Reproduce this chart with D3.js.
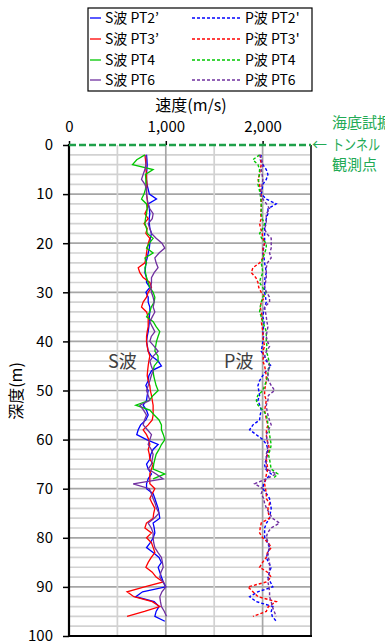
<!DOCTYPE html>
<html>
<head>
<meta charset="utf-8">
<script src="https://cdn.jsdelivr.net/npm/d3@7"></script>
<style>
  body { margin: 0; background: #fff; }
  text { font-family: "Noto Sans CJK JP", "Liberation Sans", sans-serif; }
</style>
</head>
<body>
<div id="chart"></div>
<script>
// depths (m), shared by every series; a series stops where its values stop
var depths = [2,3,4,5,6,7,8,9,10,11,12,13,14,15,16,17,18,19,20,21,22,23,24,25,26,27,28,29,30,
  31,32,33,34,35,36,37,38,39,40,41,42,43,44,45,46,47,48,49,50,51,52,53,54,55,56,57,58,59,60,
  61,62,63,64,65,66,67,68,69,70,71,72,73,74,75,76,77,78,79,80,81,82,83,84,85,86,87,88,89,90,
  91,92,93,94,95,96,97];

// S wave velocities (m/s)
var sPT2 = [801,805,808,805,800,801,805,818,830,904,818,830,835,828,830,835,852,840,835,830,
  818,808,794,790,784,800,801,835,794,818,818,835,835,830,830,825,818,808,801,810,
  818,852,920,955,852,825,818,794,818,808,801,766,800,818,794,740,715,700,801,921,
  869,845,835,801,818,852,818,801,801,869,887,904,921,930,938,869,880,887,870,840,
  801,869,930,955,921,938,955,975,1000,760,690,880,930,900,887,990];
var sPT3 = [784,790,794,794,801,801,805,801,801,808,812,808,784,818,775,808,794,835,820,808,
  801,794,784,715,732,766,835,852,818,801,766,749,801,818,818,818,808,801,801,808,
  818,835,825,818,812,808,818,835,840,852,860,869,869,869,860,818,766,801,825,835,
  818,830,835,869,852,835,835,835,887,860,835,860,887,875,869,800,784,852,801,852,
  870,887,850,818,794,860,900,973,780,600,670,860,938,780,600];
var sPT4 = [784,700,656,869,790,794,794,790,775,749,801,808,801,790,784,801,808,869,830,801,
  869,784,801,784,790,801,818,835,869,887,880,850,835,801,870,900,938,920,904,895,
  887,920,920,880,869,875,887,900,921,869,830,690,835,880,930,955,955,975,990,955,
  930,900,887,875,869,990,869];
var sPT6 = [794,801,794,784,766,749,784,801,801,808,818,835,869,860,818,835,852,900,960,990,
  930,887,900,920,880,852,852,845,852,869,880,869,887,860,835,860,887,850,835,880,
  921,870,835,850,869,850,835,818,801,818,835,732,770,801,780,766,810,852,835,818,
  850,869,860,852,818,900,973,663,830,850,869,890,904,930,880,818,850,869,869,875,
  887,920,955,965,973,950,938,970,1000,960,938,945,955,985,1007];

// P wave velocities (m/s)
var pPT2 = [1986,1975,2003,2038,2055,2038,2003,1995,1986,2038,2141,2055,2055,2038,2030,2021,2021,2021,2021,2010,
  2003,2015,2021,2030,2038,2025,2021,2021,2021,2030,2038,2021,2010,2003,2015,2010,2003,2010,2003,1995,
  1986,2020,2038,2089,2038,2000,1969,1952,1960,1969,1952,1970,1986,1975,1969,1900,1866,1935,2003,2040,
  2055,2045,2038,2020,2030,2089,2038,2010,2003,2040,2072,2080,2089,2080,2072,2040,2021,2021,2021,2050,
  2072,2055,2038,2060,2089,2070,2055,2080,2106,1950,1866,1935,2106,2089,2100,2141];
var pPT3 = [1975,1980,1986,1975,1969,1952,1969,1975,1986,1986,1986,1986,1980,1986,1969,1980,1995,2003,2021,2003,
  2010,2003,1970,1900,1883,1930,1952,1960,1986,2021,1986,1975,1986,1995,1986,1995,2003,2003,2010,2021,
  2003,2010,2003,2021,2030,2038,2038,2030,2021,2021,2038,2030,2021,2030,2040,2055,2040,2038,2045,2060,
  2072,2050,2038,2045,2055,2040,2030,2021,2030,2038,2038,2072,2055,2060,2072,1986,1975,1969,2000,2060,
  2089,2050,2038,2000,1969,2050,2089,2038,1849,1900,1952,2141,2060,2038,1900];
var pPT4 = [1969,1900,1952,1969,1965,1960,1952,1965,1975,1980,1986,1986,1986,1995,2021,2003,1969,1990,2038,2038,
  2021,2003,1986,1995,2003,1980,1969,2000,2038,2000,1986,1975,1969,1986,2003,2020,2038,2038,2038,2045,
  2038,2055,2065,2072,2055,2055,2040,2021,2003,1950,1935,1952,2003,2038,2050,2055,2065,2072,2080,2089,
  2080,2060,2072,2080,2089,2158,2106];
var pPT6 = [1969,1990,2003,1986,1995,2003,1995,1986,1975,2003,2040,2072,2038,2038,2038,2021,2040,2089,2089,2089,
  2072,2089,2050,2038,2038,2038,2030,2021,2040,2072,2072,2021,2030,2038,2045,2055,2045,2038,2050,2072,
  2040,2021,2050,2072,2060,2055,2060,2090,2124,2060,2055,2038,2045,2055,2070,2089,2060,2038,2045,2055,
  2050,2038,2038,2038,2038,2141,2038,1918,2003,1986,2010,2021,2040,2072,2100,2175,2089,2050,2038,2060,
  2072,2055,2060,2072,2072,2072,2060,2055,2065,2072,2072,2089,2100,2120,2141];

var seriesNames = ["PT2\u2019", "PT3\u2019", "PT4", "PT6"];
var pNames = ["PT2'", "PT3'", "PT4", "PT6"];
var seriesColors = ["#0000ff", "#ff0000", "#00c800", "#7030a0"];
var sSeries = [sPT2, sPT3, sPT4, sPT6];
var pSeries = [pPT2, pPT3, pPT4, pPT6];

var xTicks = [0, 1000, 2000];
var yTicks = [0, 10, 20, 30, 40, 50, 60, 70, 80, 90, 100];

var width = 385, height = 642;
var plot = {left: 69, right: 311, top: 145, bottom: 636};

var svg = d3.select("#chart").append("svg")
    .attr("width", width)
    .attr("height", height);

var x = d3.scaleLinear().domain([0, 2500]).range([plot.left, plot.right]);
var y = d3.scaleLinear().domain([0, 100]).range([plot.top, plot.bottom]);

// grid
var grid = svg.append("g");
var hLines = d3.range(2, 100, 2);
grid.selectAll(".hmin")
  .data(hLines)
  .enter().append("line")
    .attr("x1", plot.left).attr("x2", plot.right)
    .attr("y1", function(d) { return y(d); })
    .attr("y2", function(d) { return y(d); })
    .attr("stroke", function(d) { return d % 10 === 0 ? "#a6a6a6" : "#d2d2d2"; })
    .attr("stroke-width", 1.7);
grid.selectAll(".vline")
  .data([500, 1000, 1500, 2000])
  .enter().append("line")
    .attr("y1", plot.top).attr("y2", plot.bottom)
    .attr("x1", function(d) { return x(d); })
    .attr("x2", function(d) { return x(d); })
    .attr("stroke", function(d) { return d % 1000 === 0 ? "#a6a6a6" : "#d2d2d2"; })
    .attr("stroke-width", 1.7);

// frame
svg.append("line")
  .attr("x1", plot.right).attr("x2", plot.right)
  .attr("y1", plot.top).attr("y2", plot.bottom)
  .attr("stroke", "#404040").attr("stroke-width", 2);
svg.append("line")
  .attr("x1", plot.left).attr("x2", plot.right + 1)
  .attr("y1", plot.bottom).attr("y2", plot.bottom)
  .attr("stroke", "#000").attr("stroke-width", 2);
svg.append("line")
  .attr("x1", plot.left).attr("x2", plot.left)
  .attr("y1", plot.top - 1).attr("y2", plot.bottom + 1)
  .attr("stroke", "#000").attr("stroke-width", 2.2);

// axes
var topAxis = svg.append("g")
  .attr("transform", "translate(0," + plot.top + ")")
  .call(d3.axisTop(x).tickValues(xTicks).tickFormat(d3.format(",")).tickSize(4).tickPadding(9));
var leftAxis = svg.append("g")
  .attr("transform", "translate(" + plot.left + ",0)")
  .call(d3.axisLeft(y).tickValues(yTicks).tickSize(6).tickPadding(10));
[topAxis, leftAxis].forEach(function(a) {
  a.select(".domain").remove();
  a.selectAll(".tick line").attr("stroke", "#000").attr("stroke-width", 1.5);
  a.selectAll(".tick text").attr("fill", "#000").style("font-size", "15px")
    .style("font-family", "'Noto Sans CJK JP', sans-serif");
});

// seabed tunnel line at 0 m
svg.append("line")
  .attr("x1", plot.left).attr("x2", plot.right)
  .attr("y1", y(0)).attr("y2", y(0))
  .attr("stroke", "#1fa04a").attr("stroke-width", 2.6)
  .attr("stroke-dasharray", "7,3");

// lines
var line = d3.line()
  .x(function(d) { return x(d[1]); })
  .y(function(d) { return y(d[0]); });

function pairs(vals) {
  return vals.map(function(v, i) { return [depths[i], v]; });
}

var lines = svg.append("g").attr("fill", "none");
pSeries.forEach(function(vals, i) {
  lines.append("path")
    .attr("d", line(pairs(vals)))
    .attr("stroke", seriesColors[i])
    .attr("stroke-width", 1.4)
    .attr("stroke-dasharray", "3,2");
});
sSeries.forEach(function(vals, i) {
  lines.append("path")
    .attr("d", line(pairs(vals)))
    .attr("stroke", seriesColors[i])
    .attr("stroke-width", 1.3);
});

// in-plot labels
svg.append("text").attr("x", 108).attr("y", 368)
  .style("font-size", "18px").attr("fill", "#404040").text("S波");
svg.append("text").attr("x", 224).attr("y", 368)
  .style("font-size", "18px").attr("fill", "#404040").text("P波");

// titles
svg.append("text").attr("x", 191).attr("y", 111)
  .attr("text-anchor", "middle").style("font-size", "16px").text("速度(m/s)");
svg.append("text")
  .attr("transform", "translate(22,391) rotate(-90)")
  .attr("text-anchor", "middle").style("font-size", "16px").text("深度(m)");

// annotation
var note = svg.append("g").attr("fill", "#22aa55").style("font-size", "15px");
note.append("text").attr("x", 312).attr("y", 150).text("←");
note.append("text").attr("x", 332).attr("y", 128).text("海底試掘");
note.append("text").attr("x", 332).attr("y", 150)
  .attr("textLength", 48).attr("lengthAdjust", "spacingAndGlyphs").text("トンネル");
note.append("text").attr("x", 332).attr("y", 170).text("観測点");

// legend
var legend = svg.append("g");
legend.append("rect")
  .attr("x", 88).attr("y", 8).attr("width", 224).attr("height", 83)
  .attr("fill", "#fff").attr("stroke", "#000").attr("stroke-width", 1.2);
var rowY = [18, 39, 60, 80];
seriesNames.forEach(function(name, i) {
  legend.append("line")
    .attr("x1", 90).attr("x2", 101).attr("y1", rowY[i]).attr("y2", rowY[i])
    .attr("stroke", seriesColors[i]).attr("stroke-width", 1.3);
  legend.append("text").attr("x", 105).attr("y", rowY[i] + 5)
    .style("font-size", "14px").text("S波 " + name);
  legend.append("line")
    .attr("x1", 192).attr("x2", 240).attr("y1", rowY[i]).attr("y2", rowY[i])
    .attr("stroke", seriesColors[i]).attr("stroke-width", 1.3)
    .attr("stroke-dasharray", "3,2");
  legend.append("text").attr("x", 245).attr("y", rowY[i] + 5)
    .style("font-size", "14px").text("P波 " + pNames[i]);
});
</script>
</body>
</html>
